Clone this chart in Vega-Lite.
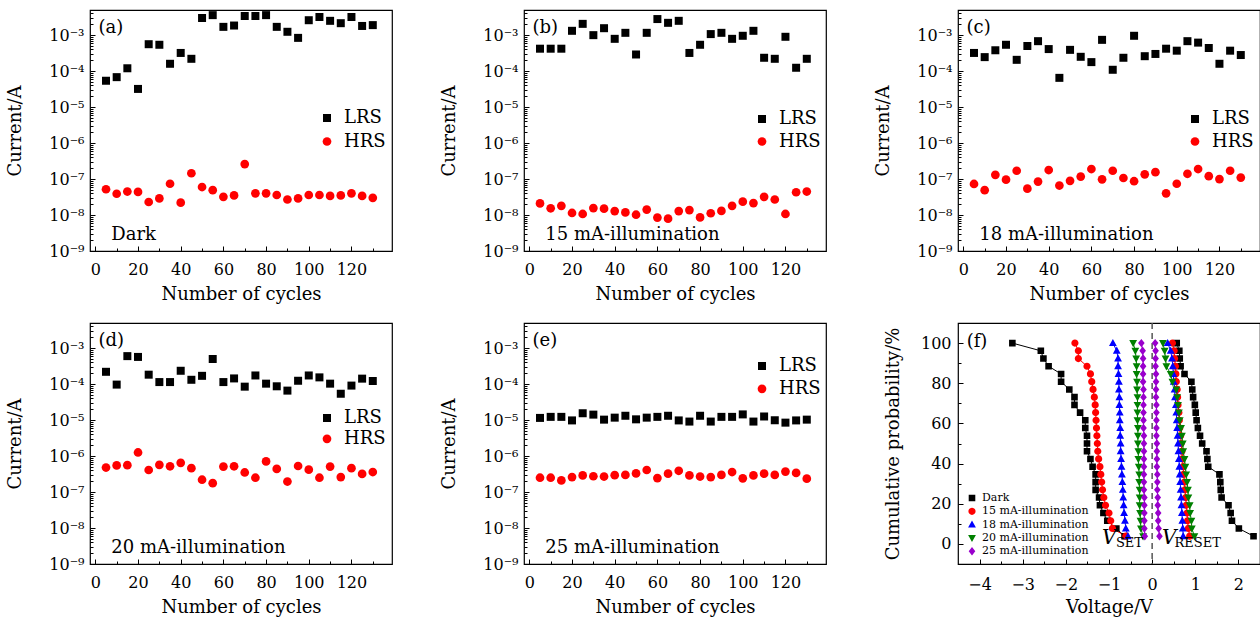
{
  "$schema": "https://vega.github.io/schema/vega-lite/v6.json",
  "padding": {"left": 5, "top": 9, "right": 0, "bottom": 0},
  "config": {
    "font": "DejaVu Serif",
    "view": {"stroke": "#000", "strokeWidth": 1.2},
    "axis": {"grid": false, "domain": false, "tickColor": "#000", "labelColor": "#000", "titleColor": "#000", "labelFont": "DejaVu Serif", "titleFont": "DejaVu Serif", "labelFontSize": 16, "titleFontSize": 18, "titleFontWeight": "normal", "tickWidth": 1},
    "legend": {"labelColor": "#000", "labelFont": "DejaVu Serif", "padding": 0, "offset": 0},
    "text": {"font": "DejaVu Serif"}
  },
  "columns": 3,
  "spacing": {"row": 17, "column": 46},
  "resolve": {
    "scale": {"color": "independent", "shape": "independent", "size": "independent", "stroke": "independent", "x": "independent", "y": "independent"},
    "legend": {"color": "independent", "shape": "independent", "size": "independent", "stroke": "independent"}
  },
  "datasets": {
    "pts": [
      {"p":"a","s":"LRS","c":5,"i":5.4e-5},{"p":"a","s":"LRS","c":10,"i":6.8e-5},{"p":"a","s":"LRS","c":15,"i":1.2e-4},{"p":"a","s":"LRS","c":20,"i":3.2e-5},{"p":"a","s":"LRS","c":25,"i":5.6e-4},{"p":"a","s":"LRS","c":30,"i":5.4e-4},{"p":"a","s":"LRS","c":35,"i":1.6e-4},{"p":"a","s":"LRS","c":40,"i":3.2e-4},{"p":"a","s":"LRS","c":45,"i":2.2e-4},{"p":"a","s":"LRS","c":50,"i":3.0e-3},{"p":"a","s":"LRS","c":55,"i":3.6e-3},{"p":"a","s":"LRS","c":60,"i":1.7e-3},{"p":"a","s":"LRS","c":65,"i":1.85e-3},{"p":"a","s":"LRS","c":70,"i":3.4e-3},{"p":"a","s":"LRS","c":75,"i":3.4e-3},{"p":"a","s":"LRS","c":80,"i":3.6e-3},{"p":"a","s":"LRS","c":85,"i":1.7e-3},{"p":"a","s":"LRS","c":90,"i":1.24e-3},{"p":"a","s":"LRS","c":95,"i":8.4e-4},{"p":"a","s":"LRS","c":100,"i":2.6e-3},{"p":"a","s":"LRS","c":105,"i":3.2e-3},{"p":"a","s":"LRS","c":110,"i":2.5e-3},{"p":"a","s":"LRS","c":115,"i":2.15e-3},{"p":"a","s":"LRS","c":120,"i":3.2e-3},{"p":"a","s":"LRS","c":125,"i":1.8e-3},{"p":"a","s":"LRS","c":130,"i":1.9e-3},
      {"p":"a","s":"HRS","c":5,"i":5.2e-8},{"p":"a","s":"HRS","c":10,"i":3.9e-8},{"p":"a","s":"HRS","c":15,"i":4.5e-8},{"p":"a","s":"HRS","c":20,"i":4.4e-8},{"p":"a","s":"HRS","c":25,"i":2.3e-8},{"p":"a","s":"HRS","c":30,"i":2.9e-8},{"p":"a","s":"HRS","c":35,"i":7.4e-8},{"p":"a","s":"HRS","c":40,"i":2.2e-8},{"p":"a","s":"HRS","c":45,"i":1.45e-7},{"p":"a","s":"HRS","c":50,"i":6.0e-8},{"p":"a","s":"HRS","c":55,"i":4.9e-8},{"p":"a","s":"HRS","c":60,"i":3.2e-8},{"p":"a","s":"HRS","c":65,"i":3.5e-8},{"p":"a","s":"HRS","c":70,"i":2.6e-7},{"p":"a","s":"HRS","c":75,"i":4.0e-8},{"p":"a","s":"HRS","c":80,"i":4.0e-8},{"p":"a","s":"HRS","c":85,"i":3.6e-8},{"p":"a","s":"HRS","c":90,"i":2.7e-8},{"p":"a","s":"HRS","c":95,"i":2.9e-8},{"p":"a","s":"HRS","c":100,"i":3.6e-8},{"p":"a","s":"HRS","c":105,"i":3.6e-8},{"p":"a","s":"HRS","c":110,"i":3.4e-8},{"p":"a","s":"HRS","c":115,"i":3.5e-8},{"p":"a","s":"HRS","c":120,"i":4.0e-8},{"p":"a","s":"HRS","c":125,"i":3.4e-8},{"p":"a","s":"HRS","c":130,"i":3.0e-8},
      {"p":"b","s":"LRS","c":5,"i":4.2e-4},{"p":"b","s":"LRS","c":10,"i":4.2e-4},{"p":"b","s":"LRS","c":15,"i":4.2e-4},{"p":"b","s":"LRS","c":20,"i":1.32e-3},{"p":"b","s":"LRS","c":25,"i":2.06e-3},{"p":"b","s":"LRS","c":30,"i":1.0e-3},{"p":"b","s":"LRS","c":35,"i":1.56e-3},{"p":"b","s":"LRS","c":40,"i":7.9e-4},{"p":"b","s":"LRS","c":45,"i":1.16e-3},{"p":"b","s":"LRS","c":50,"i":2.9e-4},{"p":"b","s":"LRS","c":55,"i":1.16e-3},{"p":"b","s":"LRS","c":60,"i":2.8e-3},{"p":"b","s":"LRS","c":65,"i":2.2e-3},{"p":"b","s":"LRS","c":70,"i":2.5e-3},{"p":"b","s":"LRS","c":75,"i":3.2e-4},{"p":"b","s":"LRS","c":80,"i":5.4e-4},{"p":"b","s":"LRS","c":85,"i":1.07e-3},{"p":"b","s":"LRS","c":90,"i":1.16e-3},{"p":"b","s":"LRS","c":95,"i":7.9e-4},{"p":"b","s":"LRS","c":100,"i":9.6e-4},{"p":"b","s":"LRS","c":105,"i":1.32e-3},{"p":"b","s":"LRS","c":110,"i":2.35e-4},{"p":"b","s":"LRS","c":115,"i":2.2e-4},{"p":"b","s":"LRS","c":120,"i":9.0e-4},{"p":"b","s":"LRS","c":125,"i":1.24e-4},{"p":"b","s":"LRS","c":130,"i":2.2e-4},
      {"p":"b","s":"HRS","c":5,"i":2.1e-8},{"p":"b","s":"HRS","c":10,"i":1.54e-8},{"p":"b","s":"HRS","c":15,"i":1.8e-8},{"p":"b","s":"HRS","c":20,"i":1.14e-8},{"p":"b","s":"HRS","c":25,"i":1.07e-8},{"p":"b","s":"HRS","c":30,"i":1.56e-8},{"p":"b","s":"HRS","c":35,"i":1.5e-8},{"p":"b","s":"HRS","c":40,"i":1.29e-8},{"p":"b","s":"HRS","c":45,"i":1.18e-8},{"p":"b","s":"HRS","c":50,"i":1.02e-8},{"p":"b","s":"HRS","c":55,"i":1.42e-8},{"p":"b","s":"HRS","c":60,"i":8.5e-9},{"p":"b","s":"HRS","c":65,"i":7.9e-9},{"p":"b","s":"HRS","c":70,"i":1.29e-8},{"p":"b","s":"HRS","c":75,"i":1.37e-8},{"p":"b","s":"HRS","c":80,"i":8.6e-9},{"p":"b","s":"HRS","c":85,"i":1.12e-8},{"p":"b","s":"HRS","c":90,"i":1.3e-8},{"p":"b","s":"HRS","c":95,"i":1.8e-8},{"p":"b","s":"HRS","c":100,"i":2.35e-8},{"p":"b","s":"HRS","c":105,"i":2.15e-8},{"p":"b","s":"HRS","c":110,"i":3.2e-8},{"p":"b","s":"HRS","c":115,"i":2.7e-8},{"p":"b","s":"HRS","c":120,"i":1.07e-8},{"p":"b","s":"HRS","c":125,"i":4.3e-8},{"p":"b","s":"HRS","c":130,"i":4.5e-8},
      {"p":"c","s":"LRS","c":5,"i":3.2e-4},{"p":"c","s":"LRS","c":10,"i":2.45e-4},{"p":"c","s":"LRS","c":15,"i":3.8e-4},{"p":"c","s":"LRS","c":20,"i":5.4e-4},{"p":"c","s":"LRS","c":25,"i":2.06e-4},{"p":"c","s":"LRS","c":30,"i":5.0e-4},{"p":"c","s":"LRS","c":35,"i":6.8e-4},{"p":"c","s":"LRS","c":40,"i":4.1e-4},{"p":"c","s":"LRS","c":45,"i":6.5e-5},{"p":"c","s":"LRS","c":50,"i":3.9e-4},{"p":"c","s":"LRS","c":55,"i":2.5e-4},{"p":"c","s":"LRS","c":60,"i":1.78e-4},{"p":"c","s":"LRS","c":65,"i":7.4e-4},{"p":"c","s":"LRS","c":70,"i":1.09e-4},{"p":"c","s":"LRS","c":75,"i":2.35e-4},{"p":"c","s":"LRS","c":80,"i":9.6e-4},{"p":"c","s":"LRS","c":85,"i":2.6e-4},{"p":"c","s":"LRS","c":90,"i":3.0e-4},{"p":"c","s":"LRS","c":95,"i":4.2e-4},{"p":"c","s":"LRS","c":100,"i":3.7e-4},{"p":"c","s":"LRS","c":105,"i":6.8e-4},{"p":"c","s":"LRS","c":110,"i":6.2e-4},{"p":"c","s":"LRS","c":115,"i":4.4e-4},{"p":"c","s":"LRS","c":120,"i":1.6e-4},{"p":"c","s":"LRS","c":125,"i":3.7e-4},{"p":"c","s":"LRS","c":130,"i":2.8e-4},
      {"p":"c","s":"HRS","c":5,"i":7.3e-8},{"p":"c","s":"HRS","c":10,"i":4.9e-8},{"p":"c","s":"HRS","c":15,"i":1.31e-7},{"p":"c","s":"HRS","c":20,"i":9.6e-8},{"p":"c","s":"HRS","c":25,"i":1.7e-7},{"p":"c","s":"HRS","c":30,"i":5.4e-8},{"p":"c","s":"HRS","c":35,"i":8.5e-8},{"p":"c","s":"HRS","c":40,"i":1.78e-7},{"p":"c","s":"HRS","c":45,"i":6.6e-8},{"p":"c","s":"HRS","c":50,"i":8.9e-8},{"p":"c","s":"HRS","c":55,"i":1.17e-7},{"p":"c","s":"HRS","c":60,"i":1.9e-7},{"p":"c","s":"HRS","c":65,"i":9.8e-8},{"p":"c","s":"HRS","c":70,"i":1.7e-7},{"p":"c","s":"HRS","c":75,"i":1.07e-7},{"p":"c","s":"HRS","c":80,"i":8.7e-8},{"p":"c","s":"HRS","c":85,"i":1.35e-7},{"p":"c","s":"HRS","c":90,"i":1.55e-7},{"p":"c","s":"HRS","c":95,"i":4.0e-8},{"p":"c","s":"HRS","c":100,"i":7.4e-8},{"p":"c","s":"HRS","c":105,"i":1.4e-7},{"p":"c","s":"HRS","c":110,"i":1.9e-7},{"p":"c","s":"HRS","c":115,"i":1.2e-7},{"p":"c","s":"HRS","c":120,"i":1.0e-7},{"p":"c","s":"HRS","c":125,"i":1.7e-7},{"p":"c","s":"HRS","c":130,"i":1.1e-7},
      {"p":"d","s":"LRS","c":5,"i":2.2e-4},{"p":"d","s":"LRS","c":10,"i":9.7e-5},{"p":"d","s":"LRS","c":15,"i":6.0e-4},{"p":"d","s":"LRS","c":20,"i":5.7e-4},{"p":"d","s":"LRS","c":25,"i":1.83e-4},{"p":"d","s":"LRS","c":30,"i":1.14e-4},{"p":"d","s":"LRS","c":35,"i":1.14e-4},{"p":"d","s":"LRS","c":40,"i":2.35e-4},{"p":"d","s":"LRS","c":45,"i":1.32e-4},{"p":"d","s":"LRS","c":50,"i":1.7e-4},{"p":"d","s":"LRS","c":55,"i":5.0e-4},{"p":"d","s":"LRS","c":60,"i":1.14e-4},{"p":"d","s":"LRS","c":65,"i":1.44e-4},{"p":"d","s":"LRS","c":70,"i":8.5e-5},{"p":"d","s":"LRS","c":75,"i":1.74e-4},{"p":"d","s":"LRS","c":80,"i":1.03e-4},{"p":"d","s":"LRS","c":85,"i":8.7e-5},{"p":"d","s":"LRS","c":90,"i":6.6e-5},{"p":"d","s":"LRS","c":95,"i":1.24e-4},{"p":"d","s":"LRS","c":100,"i":1.74e-4},{"p":"d","s":"LRS","c":105,"i":1.54e-4},{"p":"d","s":"LRS","c":110,"i":1.03e-4},{"p":"d","s":"LRS","c":115,"i":5.4e-5},{"p":"d","s":"LRS","c":120,"i":9.1e-5},{"p":"d","s":"LRS","c":125,"i":1.42e-4},{"p":"d","s":"LRS","c":130,"i":1.22e-4},
      {"p":"d","s":"HRS","c":5,"i":4.8e-7},{"p":"d","s":"HRS","c":10,"i":5.5e-7},{"p":"d","s":"HRS","c":15,"i":5.6e-7},{"p":"d","s":"HRS","c":20,"i":1.26e-6},{"p":"d","s":"HRS","c":25,"i":4.1e-7},{"p":"d","s":"HRS","c":30,"i":5.7e-7},{"p":"d","s":"HRS","c":35,"i":5.2e-7},{"p":"d","s":"HRS","c":40,"i":6.5e-7},{"p":"d","s":"HRS","c":45,"i":4.6e-7},{"p":"d","s":"HRS","c":50,"i":2.2e-7},{"p":"d","s":"HRS","c":55,"i":1.77e-7},{"p":"d","s":"HRS","c":60,"i":5.1e-7},{"p":"d","s":"HRS","c":65,"i":5.2e-7},{"p":"d","s":"HRS","c":70,"i":3.5e-7},{"p":"d","s":"HRS","c":75,"i":2.5e-7},{"p":"d","s":"HRS","c":80,"i":7.1e-7},{"p":"d","s":"HRS","c":85,"i":4.4e-7},{"p":"d","s":"HRS","c":90,"i":1.96e-7},{"p":"d","s":"HRS","c":95,"i":5.3e-7},{"p":"d","s":"HRS","c":100,"i":4.2e-7},{"p":"d","s":"HRS","c":105,"i":2.5e-7},{"p":"d","s":"HRS","c":110,"i":5.1e-7},{"p":"d","s":"HRS","c":115,"i":2.6e-7},{"p":"d","s":"HRS","c":120,"i":4.6e-7},{"p":"d","s":"HRS","c":125,"i":3.2e-7},{"p":"d","s":"HRS","c":130,"i":3.6e-7},
      {"p":"e","s":"LRS","c":5,"i":1.15e-5},{"p":"e","s":"LRS","c":10,"i":1.23e-5},{"p":"e","s":"LRS","c":15,"i":1.23e-5},{"p":"e","s":"LRS","c":20,"i":9.8e-6},{"p":"e","s":"LRS","c":25,"i":1.55e-5},{"p":"e","s":"LRS","c":30,"i":1.42e-5},{"p":"e","s":"LRS","c":35,"i":1.03e-5},{"p":"e","s":"LRS","c":40,"i":1.17e-5},{"p":"e","s":"LRS","c":45,"i":1.32e-5},{"p":"e","s":"LRS","c":50,"i":1.05e-5},{"p":"e","s":"LRS","c":55,"i":1.17e-5},{"p":"e","s":"LRS","c":60,"i":1.23e-5},{"p":"e","s":"LRS","c":65,"i":1.32e-5},{"p":"e","s":"LRS","c":70,"i":9.8e-6},{"p":"e","s":"LRS","c":75,"i":9.1e-6},{"p":"e","s":"LRS","c":80,"i":1.32e-5},{"p":"e","s":"LRS","c":85,"i":9.1e-6},{"p":"e","s":"LRS","c":90,"i":1.23e-5},{"p":"e","s":"LRS","c":95,"i":1.23e-5},{"p":"e","s":"LRS","c":100,"i":1.44e-5},{"p":"e","s":"LRS","c":105,"i":9.1e-6},{"p":"e","s":"LRS","c":110,"i":1.26e-5},{"p":"e","s":"LRS","c":115,"i":9.9e-6},{"p":"e","s":"LRS","c":120,"i":8.5e-6},{"p":"e","s":"LRS","c":125,"i":9.8e-6},{"p":"e","s":"LRS","c":130,"i":1.03e-5},
      {"p":"e","s":"HRS","c":5,"i":2.5e-7},{"p":"e","s":"HRS","c":10,"i":2.5e-7},{"p":"e","s":"HRS","c":15,"i":2.1e-7},{"p":"e","s":"HRS","c":20,"i":2.6e-7},{"p":"e","s":"HRS","c":25,"i":2.9e-7},{"p":"e","s":"HRS","c":30,"i":2.75e-7},{"p":"e","s":"HRS","c":35,"i":2.7e-7},{"p":"e","s":"HRS","c":40,"i":2.95e-7},{"p":"e","s":"HRS","c":45,"i":3.0e-7},{"p":"e","s":"HRS","c":50,"i":3.3e-7},{"p":"e","s":"HRS","c":55,"i":4.1e-7},{"p":"e","s":"HRS","c":60,"i":2.45e-7},{"p":"e","s":"HRS","c":65,"i":3.25e-7},{"p":"e","s":"HRS","c":70,"i":3.9e-7},{"p":"e","s":"HRS","c":75,"i":2.9e-7},{"p":"e","s":"HRS","c":80,"i":2.7e-7},{"p":"e","s":"HRS","c":85,"i":2.6e-7},{"p":"e","s":"HRS","c":90,"i":3.0e-7},{"p":"e","s":"HRS","c":95,"i":3.6e-7},{"p":"e","s":"HRS","c":100,"i":2.4e-7},{"p":"e","s":"HRS","c":105,"i":2.9e-7},{"p":"e","s":"HRS","c":110,"i":3.25e-7},{"p":"e","s":"HRS","c":115,"i":3.0e-7},{"p":"e","s":"HRS","c":120,"i":3.7e-7},{"p":"e","s":"HRS","c":125,"i":3.4e-7},{"p":"e","s":"HRS","c":130,"i":2.35e-7}
    ],
    "ann": [
      {"p":"a","t":"(a)","x":1.5,"y":1.15e-3},{"p":"a","t":"Dark","x":7.5,"y":2e-9},
      {"p":"b","t":"(b)","x":1.5,"y":1.15e-3},{"p":"b","t":"15 mA-illumination","x":7.5,"y":2e-9},
      {"p":"c","t":"(c)","x":1.5,"y":1.15e-3},{"p":"c","t":"18 mA-illumination","x":7.5,"y":2e-9},
      {"p":"d","t":"(d)","x":1.5,"y":1.15e-3},{"p":"d","t":"20 mA-illumination","x":7.5,"y":2e-9},
      {"p":"e","t":"(e)","x":1.5,"y":1.15e-3},{"p":"e","t":"25 mA-illumination","x":7.5,"y":2e-9}
    ],
    "cdf": [
      {"s":"Dark","b":"S","q":100,"v":-3.24},{"s":"Dark","b":"S","q":96.15,"v":-2.58},{"s":"Dark","b":"S","q":92.31,"v":-2.52},{"s":"Dark","b":"S","q":88.46,"v":-2.4},{"s":"Dark","b":"S","q":84.62,"v":-2.11},{"s":"Dark","b":"S","q":80.77,"v":-2.11},{"s":"Dark","b":"S","q":76.92,"v":-1.92},{"s":"Dark","b":"S","q":73.08,"v":-1.8},{"s":"Dark","b":"S","q":69.23,"v":-1.8},{"s":"Dark","b":"S","q":65.38,"v":-1.67},{"s":"Dark","b":"S","q":61.54,"v":-1.55},{"s":"Dark","b":"S","q":57.69,"v":-1.55},{"s":"Dark","b":"S","q":53.85,"v":-1.51},{"s":"Dark","b":"S","q":50,"v":-1.51},{"s":"Dark","b":"S","q":46.15,"v":-1.51},{"s":"Dark","b":"S","q":42.31,"v":-1.43},{"s":"Dark","b":"S","q":38.46,"v":-1.38},{"s":"Dark","b":"S","q":34.62,"v":-1.31},{"s":"Dark","b":"S","q":30.77,"v":-1.31},{"s":"Dark","b":"S","q":26.92,"v":-1.31},{"s":"Dark","b":"S","q":23.08,"v":-1.23},{"s":"Dark","b":"S","q":19.23,"v":-1.21},{"s":"Dark","b":"S","q":15.38,"v":-1.13},{"s":"Dark","b":"S","q":11.54,"v":-1.04},{"s":"Dark","b":"S","q":7.69,"v":-0.83},{"s":"Dark","b":"S","q":3.85,"v":-0.64},
      {"s":"Dark","b":"R","q":100,"v":0.57},{"s":"Dark","b":"R","q":96.15,"v":0.63},{"s":"Dark","b":"R","q":92.31,"v":0.64},{"s":"Dark","b":"R","q":88.46,"v":0.66},{"s":"Dark","b":"R","q":84.62,"v":0.75},{"s":"Dark","b":"R","q":80.77,"v":0.91},{"s":"Dark","b":"R","q":76.92,"v":0.93},{"s":"Dark","b":"R","q":73.08,"v":0.95},{"s":"Dark","b":"R","q":69.23,"v":0.99},{"s":"Dark","b":"R","q":65.38,"v":1.01},{"s":"Dark","b":"R","q":61.54,"v":1.03},{"s":"Dark","b":"R","q":57.69,"v":1.06},{"s":"Dark","b":"R","q":53.85,"v":1.11},{"s":"Dark","b":"R","q":50,"v":1.16},{"s":"Dark","b":"R","q":46.15,"v":1.26},{"s":"Dark","b":"R","q":42.31,"v":1.28},{"s":"Dark","b":"R","q":38.46,"v":1.3},{"s":"Dark","b":"R","q":34.62,"v":1.56},{"s":"Dark","b":"R","q":30.77,"v":1.58},{"s":"Dark","b":"R","q":26.92,"v":1.59},{"s":"Dark","b":"R","q":23.08,"v":1.61},{"s":"Dark","b":"R","q":19.23,"v":1.77},{"s":"Dark","b":"R","q":15.38,"v":1.82},{"s":"Dark","b":"R","q":11.54,"v":1.85},{"s":"Dark","b":"R","q":7.69,"v":2.01},{"s":"Dark","b":"R","q":3.85,"v":2.35},
      {"s":"15 mA-illumination","b":"S","q":100,"v":-1.79},{"s":"15 mA-illumination","b":"S","q":96.15,"v":-1.71},{"s":"15 mA-illumination","b":"S","q":92.31,"v":-1.71},{"s":"15 mA-illumination","b":"S","q":88.46,"v":-1.51},{"s":"15 mA-illumination","b":"S","q":84.62,"v":-1.43},{"s":"15 mA-illumination","b":"S","q":80.77,"v":-1.4},{"s":"15 mA-illumination","b":"S","q":76.92,"v":-1.37},{"s":"15 mA-illumination","b":"S","q":73.08,"v":-1.34},{"s":"15 mA-illumination","b":"S","q":69.23,"v":-1.32},{"s":"15 mA-illumination","b":"S","q":65.38,"v":-1.31},{"s":"15 mA-illumination","b":"S","q":61.54,"v":-1.3},{"s":"15 mA-illumination","b":"S","q":57.69,"v":-1.29},{"s":"15 mA-illumination","b":"S","q":53.85,"v":-1.28},{"s":"15 mA-illumination","b":"S","q":50,"v":-1.27},{"s":"15 mA-illumination","b":"S","q":46.15,"v":-1.26},{"s":"15 mA-illumination","b":"S","q":42.31,"v":-1.24},{"s":"15 mA-illumination","b":"S","q":38.46,"v":-1.21},{"s":"15 mA-illumination","b":"S","q":34.62,"v":-1.19},{"s":"15 mA-illumination","b":"S","q":30.77,"v":-1.17},{"s":"15 mA-illumination","b":"S","q":26.92,"v":-1.15},{"s":"15 mA-illumination","b":"S","q":23.08,"v":-1.12},{"s":"15 mA-illumination","b":"S","q":19.23,"v":-1.08},{"s":"15 mA-illumination","b":"S","q":15.38,"v":-1.0},{"s":"15 mA-illumination","b":"S","q":11.54,"v":-0.96},{"s":"15 mA-illumination","b":"S","q":7.69,"v":-0.92},{"s":"15 mA-illumination","b":"S","q":3.85,"v":-0.61},
      {"s":"15 mA-illumination","b":"R","q":100,"v":0.47},{"s":"15 mA-illumination","b":"R","q":96.15,"v":0.51},{"s":"15 mA-illumination","b":"R","q":92.31,"v":0.52},{"s":"15 mA-illumination","b":"R","q":88.46,"v":0.54},{"s":"15 mA-illumination","b":"R","q":84.62,"v":0.55},{"s":"15 mA-illumination","b":"R","q":80.77,"v":0.56},{"s":"15 mA-illumination","b":"R","q":76.92,"v":0.58},{"s":"15 mA-illumination","b":"R","q":73.08,"v":0.59},{"s":"15 mA-illumination","b":"R","q":69.23,"v":0.6},{"s":"15 mA-illumination","b":"R","q":65.38,"v":0.62},{"s":"15 mA-illumination","b":"R","q":61.54,"v":0.63},{"s":"15 mA-illumination","b":"R","q":57.69,"v":0.64},{"s":"15 mA-illumination","b":"R","q":53.85,"v":0.66},{"s":"15 mA-illumination","b":"R","q":50,"v":0.67},{"s":"15 mA-illumination","b":"R","q":46.15,"v":0.69},{"s":"15 mA-illumination","b":"R","q":42.31,"v":0.7},{"s":"15 mA-illumination","b":"R","q":38.46,"v":0.72},{"s":"15 mA-illumination","b":"R","q":34.62,"v":0.73},{"s":"15 mA-illumination","b":"R","q":30.77,"v":0.75},{"s":"15 mA-illumination","b":"R","q":26.92,"v":0.76},{"s":"15 mA-illumination","b":"R","q":23.08,"v":0.78},{"s":"15 mA-illumination","b":"R","q":19.23,"v":0.79},{"s":"15 mA-illumination","b":"R","q":15.38,"v":0.81},{"s":"15 mA-illumination","b":"R","q":11.54,"v":0.82},{"s":"15 mA-illumination","b":"R","q":7.69,"v":0.84},{"s":"15 mA-illumination","b":"R","q":3.85,"v":0.87},
      {"s":"18 mA-illumination","b":"S","q":100,"v":-0.91},{"s":"18 mA-illumination","b":"S","q":96.15,"v":-0.82},{"s":"18 mA-illumination","b":"S","q":92.31,"v":-0.79},{"s":"18 mA-illumination","b":"S","q":88.46,"v":-0.79},{"s":"18 mA-illumination","b":"S","q":84.62,"v":-0.78},{"s":"18 mA-illumination","b":"S","q":80.77,"v":-0.77},{"s":"18 mA-illumination","b":"S","q":76.92,"v":-0.77},{"s":"18 mA-illumination","b":"S","q":73.08,"v":-0.76},{"s":"18 mA-illumination","b":"S","q":69.23,"v":-0.76},{"s":"18 mA-illumination","b":"S","q":65.38,"v":-0.75},{"s":"18 mA-illumination","b":"S","q":61.54,"v":-0.75},{"s":"18 mA-illumination","b":"S","q":57.69,"v":-0.74},{"s":"18 mA-illumination","b":"S","q":53.85,"v":-0.74},{"s":"18 mA-illumination","b":"S","q":50,"v":-0.73},{"s":"18 mA-illumination","b":"S","q":46.15,"v":-0.73},{"s":"18 mA-illumination","b":"S","q":42.31,"v":-0.72},{"s":"18 mA-illumination","b":"S","q":38.46,"v":-0.71},{"s":"18 mA-illumination","b":"S","q":34.62,"v":-0.7},{"s":"18 mA-illumination","b":"S","q":30.77,"v":-0.69},{"s":"18 mA-illumination","b":"S","q":26.92,"v":-0.68},{"s":"18 mA-illumination","b":"S","q":23.08,"v":-0.67},{"s":"18 mA-illumination","b":"S","q":19.23,"v":-0.66},{"s":"18 mA-illumination","b":"S","q":15.38,"v":-0.65},{"s":"18 mA-illumination","b":"S","q":11.54,"v":-0.63},{"s":"18 mA-illumination","b":"S","q":7.69,"v":-0.61},{"s":"18 mA-illumination","b":"S","q":3.85,"v":-0.56},
      {"s":"18 mA-illumination","b":"R","q":100,"v":0.36},{"s":"18 mA-illumination","b":"R","q":96.15,"v":0.43},{"s":"18 mA-illumination","b":"R","q":92.31,"v":0.46},{"s":"18 mA-illumination","b":"R","q":88.46,"v":0.48},{"s":"18 mA-illumination","b":"R","q":84.62,"v":0.49},{"s":"18 mA-illumination","b":"R","q":80.77,"v":0.5},{"s":"18 mA-illumination","b":"R","q":76.92,"v":0.52},{"s":"18 mA-illumination","b":"R","q":73.08,"v":0.53},{"s":"18 mA-illumination","b":"R","q":69.23,"v":0.55},{"s":"18 mA-illumination","b":"R","q":65.38,"v":0.56},{"s":"18 mA-illumination","b":"R","q":61.54,"v":0.57},{"s":"18 mA-illumination","b":"R","q":57.69,"v":0.58},{"s":"18 mA-illumination","b":"R","q":53.85,"v":0.59},{"s":"18 mA-illumination","b":"R","q":50,"v":0.6},{"s":"18 mA-illumination","b":"R","q":46.15,"v":0.61},{"s":"18 mA-illumination","b":"R","q":42.31,"v":0.62},{"s":"18 mA-illumination","b":"R","q":38.46,"v":0.63},{"s":"18 mA-illumination","b":"R","q":34.62,"v":0.64},{"s":"18 mA-illumination","b":"R","q":30.77,"v":0.65},{"s":"18 mA-illumination","b":"R","q":26.92,"v":0.66},{"s":"18 mA-illumination","b":"R","q":23.08,"v":0.67},{"s":"18 mA-illumination","b":"R","q":19.23,"v":0.68},{"s":"18 mA-illumination","b":"R","q":15.38,"v":0.69},{"s":"18 mA-illumination","b":"R","q":11.54,"v":0.7},{"s":"18 mA-illumination","b":"R","q":7.69,"v":0.71},{"s":"18 mA-illumination","b":"R","q":3.85,"v":0.72},
      {"s":"20 mA-illumination","b":"S","q":100,"v":-0.44},{"s":"20 mA-illumination","b":"S","q":96.15,"v":-0.39},{"s":"20 mA-illumination","b":"S","q":92.31,"v":-0.37},{"s":"20 mA-illumination","b":"S","q":88.46,"v":-0.36},{"s":"20 mA-illumination","b":"S","q":84.62,"v":-0.36},{"s":"20 mA-illumination","b":"S","q":80.77,"v":-0.35},{"s":"20 mA-illumination","b":"S","q":76.92,"v":-0.35},{"s":"20 mA-illumination","b":"S","q":73.08,"v":-0.34},{"s":"20 mA-illumination","b":"S","q":69.23,"v":-0.34},{"s":"20 mA-illumination","b":"S","q":65.38,"v":-0.34},{"s":"20 mA-illumination","b":"S","q":61.54,"v":-0.34},{"s":"20 mA-illumination","b":"S","q":57.69,"v":-0.33},{"s":"20 mA-illumination","b":"S","q":53.85,"v":-0.33},{"s":"20 mA-illumination","b":"S","q":50,"v":-0.33},{"s":"20 mA-illumination","b":"S","q":46.15,"v":-0.32},{"s":"20 mA-illumination","b":"S","q":42.31,"v":-0.32},{"s":"20 mA-illumination","b":"S","q":38.46,"v":-0.31},{"s":"20 mA-illumination","b":"S","q":34.62,"v":-0.3},{"s":"20 mA-illumination","b":"S","q":30.77,"v":-0.3},{"s":"20 mA-illumination","b":"S","q":26.92,"v":-0.29},{"s":"20 mA-illumination","b":"S","q":23.08,"v":-0.29},{"s":"20 mA-illumination","b":"S","q":19.23,"v":-0.29},{"s":"20 mA-illumination","b":"S","q":15.38,"v":-0.28},{"s":"20 mA-illumination","b":"S","q":11.54,"v":-0.27},{"s":"20 mA-illumination","b":"S","q":7.69,"v":-0.26},{"s":"20 mA-illumination","b":"S","q":3.85,"v":-0.21},
      {"s":"20 mA-illumination","b":"R","q":100,"v":0.25},{"s":"20 mA-illumination","b":"R","q":96.15,"v":0.29},{"s":"20 mA-illumination","b":"R","q":92.31,"v":0.31},{"s":"20 mA-illumination","b":"R","q":88.46,"v":0.33},{"s":"20 mA-illumination","b":"R","q":84.62,"v":0.43},{"s":"20 mA-illumination","b":"R","q":80.77,"v":0.47},{"s":"20 mA-illumination","b":"R","q":76.92,"v":0.56},{"s":"20 mA-illumination","b":"R","q":73.08,"v":0.58},{"s":"20 mA-illumination","b":"R","q":69.23,"v":0.6},{"s":"20 mA-illumination","b":"R","q":65.38,"v":0.62},{"s":"20 mA-illumination","b":"R","q":61.54,"v":0.64},{"s":"20 mA-illumination","b":"R","q":57.69,"v":0.67},{"s":"20 mA-illumination","b":"R","q":53.85,"v":0.69},{"s":"20 mA-illumination","b":"R","q":50,"v":0.71},{"s":"20 mA-illumination","b":"R","q":46.15,"v":0.72},{"s":"20 mA-illumination","b":"R","q":42.31,"v":0.75},{"s":"20 mA-illumination","b":"R","q":38.46,"v":0.77},{"s":"20 mA-illumination","b":"R","q":34.62,"v":0.79},{"s":"20 mA-illumination","b":"R","q":30.77,"v":0.81},{"s":"20 mA-illumination","b":"R","q":26.92,"v":0.83},{"s":"20 mA-illumination","b":"R","q":23.08,"v":0.84},{"s":"20 mA-illumination","b":"R","q":19.23,"v":0.87},{"s":"20 mA-illumination","b":"R","q":15.38,"v":0.88},{"s":"20 mA-illumination","b":"R","q":11.54,"v":0.91},{"s":"20 mA-illumination","b":"R","q":7.69,"v":0.92},{"s":"20 mA-illumination","b":"R","q":3.85,"v":0.98},
      {"s":"25 mA-illumination","b":"S","q":100,"v":-0.25},{"s":"25 mA-illumination","b":"S","q":96.15,"v":-0.22},{"s":"25 mA-illumination","b":"S","q":92.31,"v":-0.21},{"s":"25 mA-illumination","b":"S","q":88.46,"v":-0.21},{"s":"25 mA-illumination","b":"S","q":84.62,"v":-0.21},{"s":"25 mA-illumination","b":"S","q":80.77,"v":-0.21},{"s":"25 mA-illumination","b":"S","q":76.92,"v":-0.2},{"s":"25 mA-illumination","b":"S","q":73.08,"v":-0.2},{"s":"25 mA-illumination","b":"S","q":69.23,"v":-0.2},{"s":"25 mA-illumination","b":"S","q":65.38,"v":-0.2},{"s":"25 mA-illumination","b":"S","q":61.54,"v":-0.2},{"s":"25 mA-illumination","b":"S","q":57.69,"v":-0.2},{"s":"25 mA-illumination","b":"S","q":53.85,"v":-0.19},{"s":"25 mA-illumination","b":"S","q":50,"v":-0.19},{"s":"25 mA-illumination","b":"S","q":46.15,"v":-0.19},{"s":"25 mA-illumination","b":"S","q":42.31,"v":-0.19},{"s":"25 mA-illumination","b":"S","q":38.46,"v":-0.19},{"s":"25 mA-illumination","b":"S","q":34.62,"v":-0.19},{"s":"25 mA-illumination","b":"S","q":30.77,"v":-0.19},{"s":"25 mA-illumination","b":"S","q":26.92,"v":-0.19},{"s":"25 mA-illumination","b":"S","q":23.08,"v":-0.18},{"s":"25 mA-illumination","b":"S","q":19.23,"v":-0.18},{"s":"25 mA-illumination","b":"S","q":15.38,"v":-0.18},{"s":"25 mA-illumination","b":"S","q":11.54,"v":-0.18},{"s":"25 mA-illumination","b":"S","q":7.69,"v":-0.18},{"s":"25 mA-illumination","b":"S","q":3.85,"v":-0.17},
      {"s":"25 mA-illumination","b":"R","q":100,"v":0.07},{"s":"25 mA-illumination","b":"R","q":96.15,"v":0.08},{"s":"25 mA-illumination","b":"R","q":92.31,"v":0.08},{"s":"25 mA-illumination","b":"R","q":88.46,"v":0.08},{"s":"25 mA-illumination","b":"R","q":84.62,"v":0.09},{"s":"25 mA-illumination","b":"R","q":80.77,"v":0.09},{"s":"25 mA-illumination","b":"R","q":76.92,"v":0.09},{"s":"25 mA-illumination","b":"R","q":73.08,"v":0.09},{"s":"25 mA-illumination","b":"R","q":69.23,"v":0.1},{"s":"25 mA-illumination","b":"R","q":65.38,"v":0.1},{"s":"25 mA-illumination","b":"R","q":61.54,"v":0.1},{"s":"25 mA-illumination","b":"R","q":57.69,"v":0.1},{"s":"25 mA-illumination","b":"R","q":53.85,"v":0.1},{"s":"25 mA-illumination","b":"R","q":50,"v":0.11},{"s":"25 mA-illumination","b":"R","q":46.15,"v":0.11},{"s":"25 mA-illumination","b":"R","q":42.31,"v":0.11},{"s":"25 mA-illumination","b":"R","q":38.46,"v":0.11},{"s":"25 mA-illumination","b":"R","q":34.62,"v":0.12},{"s":"25 mA-illumination","b":"R","q":30.77,"v":0.12},{"s":"25 mA-illumination","b":"R","q":26.92,"v":0.12},{"s":"25 mA-illumination","b":"R","q":23.08,"v":0.13},{"s":"25 mA-illumination","b":"R","q":19.23,"v":0.13},{"s":"25 mA-illumination","b":"R","q":15.38,"v":0.14},{"s":"25 mA-illumination","b":"R","q":11.54,"v":0.14},{"s":"25 mA-illumination","b":"R","q":7.69,"v":0.15},{"s":"25 mA-illumination","b":"R","q":3.85,"v":0.17}
    ]
  },
  "concat": [
    {
      "width": 302, "height": 241,
      "layer": [
        {
          "data": {"name": "pts"}, "transform": [{"filter": "datum.p === 'a'"}],
          "mark": {"type": "point", "filled": true, "opacity": 1},
          "encoding": {
            "x": {"field": "c", "type": "quantitative", "scale": {"domain": [-2.5, 139], "nice": false, "zero": false}, "axis": {"title": "Number of cycles", "values": [0,20,40,60,80,100,120], "format": "d", "tickSize": -5, "labelPadding": 15, "titleY": 48, "titleBaseline": "alphabetic"}},
            "y": {"field": "i", "type": "quantitative", "scale": {"type": "log", "domain": [1e-9, 5e-3], "nice": false}, "axis": {"title": "Current/A", "values": [1e-9,1e-8,1e-7,1e-6,1e-5,1e-4,1e-3], "labelExpr": "'10⁻' + ['⁰','¹','²','³','⁴','⁵','⁶','⁷','⁸','⁹'][round(-log(datum.value)/LN10)]", "tickSize": -5, "labelPadding": 11, "titleX": -66}},
            "color": {"field": "s", "type": "nominal", "scale": {"domain": ["LRS","HRS"], "range": ["#000000","#FF0000"]}, "legend": {"orient": "none", "legendX": 228, "legendY": 99, "title": null, "labelFontSize": 18, "symbolSize": 70, "rowPadding": 5.5, "labelOffset": 8}},
            "shape": {"field": "s", "type": "nominal", "scale": {"domain": ["LRS","HRS"], "range": ["square","circle"]}},
            "size": {"field": "s", "type": "nominal", "scale": {"domain": ["LRS","HRS"], "range": [64, 76]}, "legend": null}
          }
        },
        {
          "data": {"name": "ann"}, "transform": [{"filter": "datum.p === 'a'"}],
          "mark": {"type": "text", "align": "left", "baseline": "alphabetic", "fontSize": 18, "font": "DejaVu Serif", "color": "#000"},
          "encoding": {
            "x": {"field": "x", "type": "quantitative", "scale": {"domain": [-2.5, 139], "nice": false, "zero": false}, "axis": {"orient": "bottom", "values": [10,30,50,70,90,110,130], "labels": false, "tickSize": -3, "title": null}},
            "y": {"field": "y", "type": "quantitative", "scale": {"type": "log", "domain": [1e-9, 5e-3], "nice": false}, "axis": {"orient": "left", "values": [2e-9,3e-9,4e-9,5e-9,6e-9,7e-9,8e-9,9e-9,2e-8,3e-8,4e-8,5e-8,6e-8,7e-8,8e-8,9e-8,2e-7,3e-7,4e-7,5e-7,6e-7,7e-7,8e-7,9e-7,2e-6,3e-6,4e-6,5e-6,6e-6,7e-6,8e-6,9e-6,2e-5,3e-5,4e-5,5e-5,6e-5,7e-5,8e-5,9e-5,2e-4,3e-4,4e-4,5e-4,6e-4,7e-4,8e-4,9e-4,2e-3,3e-3,4e-3], "labels": false, "tickSize": -3, "title": null}},
            "text": {"field": "t"}
          }
        }
      ],
      "resolve": {"axis": {"x": "independent", "y": "independent"}}
    },
    {
      "width": 302, "height": 241,
      "layer": [
        {
          "data": {"name": "pts"}, "transform": [{"filter": "datum.p === 'b'"}],
          "mark": {"type": "point", "filled": true, "opacity": 1},
          "encoding": {
            "x": {"field": "c", "type": "quantitative", "scale": {"domain": [-2.5, 139], "nice": false, "zero": false}, "axis": {"title": "Number of cycles", "values": [0,20,40,60,80,100,120], "format": "d", "tickSize": -5, "labelPadding": 15, "titleY": 48, "titleBaseline": "alphabetic"}},
            "y": {"field": "i", "type": "quantitative", "scale": {"type": "log", "domain": [1e-9, 5e-3], "nice": false}, "axis": {"title": "Current/A", "values": [1e-9,1e-8,1e-7,1e-6,1e-5,1e-4,1e-3], "labelExpr": "'10⁻' + ['⁰','¹','²','³','⁴','⁵','⁶','⁷','⁸','⁹'][round(-log(datum.value)/LN10)]", "tickSize": -5, "labelPadding": 11, "titleX": -66}},
            "color": {"field": "s", "type": "nominal", "scale": {"domain": ["LRS","HRS"], "range": ["#000000","#FF0000"]}, "legend": {"orient": "none", "legendX": 229, "legendY": 100, "title": null, "labelFontSize": 18, "symbolSize": 70, "rowPadding": 4.5, "labelOffset": 8}},
            "shape": {"field": "s", "type": "nominal", "scale": {"domain": ["LRS","HRS"], "range": ["square","circle"]}},
            "size": {"field": "s", "type": "nominal", "scale": {"domain": ["LRS","HRS"], "range": [64, 76]}, "legend": null}
          }
        },
        {
          "data": {"name": "ann"}, "transform": [{"filter": "datum.p === 'b'"}],
          "mark": {"type": "text", "align": "left", "baseline": "alphabetic", "fontSize": 18, "font": "DejaVu Serif", "color": "#000"},
          "encoding": {
            "x": {"field": "x", "type": "quantitative", "scale": {"domain": [-2.5, 139], "nice": false, "zero": false}, "axis": {"orient": "bottom", "values": [10,30,50,70,90,110,130], "labels": false, "tickSize": -3, "title": null}},
            "y": {"field": "y", "type": "quantitative", "scale": {"type": "log", "domain": [1e-9, 5e-3], "nice": false}, "axis": {"orient": "left", "values": [2e-9,3e-9,4e-9,5e-9,6e-9,7e-9,8e-9,9e-9,2e-8,3e-8,4e-8,5e-8,6e-8,7e-8,8e-8,9e-8,2e-7,3e-7,4e-7,5e-7,6e-7,7e-7,8e-7,9e-7,2e-6,3e-6,4e-6,5e-6,6e-6,7e-6,8e-6,9e-6,2e-5,3e-5,4e-5,5e-5,6e-5,7e-5,8e-5,9e-5,2e-4,3e-4,4e-4,5e-4,6e-4,7e-4,8e-4,9e-4,2e-3,3e-3,4e-3], "labels": false, "tickSize": -3, "title": null}},
            "text": {"field": "t"}
          }
        }
      ],
      "resolve": {"axis": {"x": "independent", "y": "independent"}}
    },
    {
      "width": 302, "height": 241,
      "layer": [
        {
          "data": {"name": "pts"}, "transform": [{"filter": "datum.p === 'c'"}],
          "mark": {"type": "point", "filled": true, "opacity": 1},
          "encoding": {
            "x": {"field": "c", "type": "quantitative", "scale": {"domain": [-2.5, 139], "nice": false, "zero": false}, "axis": {"title": "Number of cycles", "values": [0,20,40,60,80,100,120], "format": "d", "tickSize": -5, "labelPadding": 15, "titleY": 48, "titleBaseline": "alphabetic"}},
            "y": {"field": "i", "type": "quantitative", "scale": {"type": "log", "domain": [1e-9, 5e-3], "nice": false}, "axis": {"title": "Current/A", "values": [1e-9,1e-8,1e-7,1e-6,1e-5,1e-4,1e-3], "labelExpr": "'10⁻' + ['⁰','¹','²','³','⁴','⁵','⁶','⁷','⁸','⁹'][round(-log(datum.value)/LN10)]", "tickSize": -5, "labelPadding": 11, "titleX": -66}},
            "color": {"field": "s", "type": "nominal", "scale": {"domain": ["LRS","HRS"], "range": ["#000000","#FF0000"]}, "legend": {"orient": "none", "legendX": 228, "legendY": 100, "title": null, "labelFontSize": 18, "symbolSize": 70, "rowPadding": 4.5, "labelOffset": 8}},
            "shape": {"field": "s", "type": "nominal", "scale": {"domain": ["LRS","HRS"], "range": ["square","circle"]}},
            "size": {"field": "s", "type": "nominal", "scale": {"domain": ["LRS","HRS"], "range": [64, 76]}, "legend": null}
          }
        },
        {
          "data": {"name": "ann"}, "transform": [{"filter": "datum.p === 'c'"}],
          "mark": {"type": "text", "align": "left", "baseline": "alphabetic", "fontSize": 18, "font": "DejaVu Serif", "color": "#000"},
          "encoding": {
            "x": {"field": "x", "type": "quantitative", "scale": {"domain": [-2.5, 139], "nice": false, "zero": false}, "axis": {"orient": "bottom", "values": [10,30,50,70,90,110,130], "labels": false, "tickSize": -3, "title": null}},
            "y": {"field": "y", "type": "quantitative", "scale": {"type": "log", "domain": [1e-9, 5e-3], "nice": false}, "axis": {"orient": "left", "values": [2e-9,3e-9,4e-9,5e-9,6e-9,7e-9,8e-9,9e-9,2e-8,3e-8,4e-8,5e-8,6e-8,7e-8,8e-8,9e-8,2e-7,3e-7,4e-7,5e-7,6e-7,7e-7,8e-7,9e-7,2e-6,3e-6,4e-6,5e-6,6e-6,7e-6,8e-6,9e-6,2e-5,3e-5,4e-5,5e-5,6e-5,7e-5,8e-5,9e-5,2e-4,3e-4,4e-4,5e-4,6e-4,7e-4,8e-4,9e-4,2e-3,3e-3,4e-3], "labels": false, "tickSize": -3, "title": null}},
            "text": {"field": "t"}
          }
        }
      ],
      "resolve": {"axis": {"x": "independent", "y": "independent"}}
    },
    {
      "width": 302, "height": 241,
      "layer": [
        {
          "data": {"name": "pts"}, "transform": [{"filter": "datum.p === 'd'"}],
          "mark": {"type": "point", "filled": true, "opacity": 1},
          "encoding": {
            "x": {"field": "c", "type": "quantitative", "scale": {"domain": [-2.5, 139], "nice": false, "zero": false}, "axis": {"title": "Number of cycles", "values": [0,20,40,60,80,100,120], "format": "d", "tickSize": -5, "labelPadding": 15, "titleY": 48, "titleBaseline": "alphabetic"}},
            "y": {"field": "i", "type": "quantitative", "scale": {"type": "log", "domain": [1e-9, 5e-3], "nice": false}, "axis": {"title": "Current/A", "values": [1e-9,1e-8,1e-7,1e-6,1e-5,1e-4,1e-3], "labelExpr": "'10⁻' + ['⁰','¹','²','³','⁴','⁵','⁶','⁷','⁸','⁹'][round(-log(datum.value)/LN10)]", "tickSize": -5, "labelPadding": 11, "titleX": -66}},
            "color": {"field": "s", "type": "nominal", "scale": {"domain": ["LRS","HRS"], "range": ["#000000","#FF0000"]}, "legend": {"orient": "none", "legendX": 228, "legendY": 86, "title": null, "labelFontSize": 18, "symbolSize": 70, "rowPadding": 2.8, "labelOffset": 8}},
            "shape": {"field": "s", "type": "nominal", "scale": {"domain": ["LRS","HRS"], "range": ["square","circle"]}},
            "size": {"field": "s", "type": "nominal", "scale": {"domain": ["LRS","HRS"], "range": [64, 76]}, "legend": null}
          }
        },
        {
          "data": {"name": "ann"}, "transform": [{"filter": "datum.p === 'd'"}],
          "mark": {"type": "text", "align": "left", "baseline": "alphabetic", "fontSize": 18, "font": "DejaVu Serif", "color": "#000"},
          "encoding": {
            "x": {"field": "x", "type": "quantitative", "scale": {"domain": [-2.5, 139], "nice": false, "zero": false}, "axis": {"orient": "bottom", "values": [10,30,50,70,90,110,130], "labels": false, "tickSize": -3, "title": null}},
            "y": {"field": "y", "type": "quantitative", "scale": {"type": "log", "domain": [1e-9, 5e-3], "nice": false}, "axis": {"orient": "left", "values": [2e-9,3e-9,4e-9,5e-9,6e-9,7e-9,8e-9,9e-9,2e-8,3e-8,4e-8,5e-8,6e-8,7e-8,8e-8,9e-8,2e-7,3e-7,4e-7,5e-7,6e-7,7e-7,8e-7,9e-7,2e-6,3e-6,4e-6,5e-6,6e-6,7e-6,8e-6,9e-6,2e-5,3e-5,4e-5,5e-5,6e-5,7e-5,8e-5,9e-5,2e-4,3e-4,4e-4,5e-4,6e-4,7e-4,8e-4,9e-4,2e-3,3e-3,4e-3], "labels": false, "tickSize": -3, "title": null}},
            "text": {"field": "t"}
          }
        }
      ],
      "resolve": {"axis": {"x": "independent", "y": "independent"}}
    },
    {
      "width": 302, "height": 241,
      "layer": [
        {
          "data": {"name": "pts"}, "transform": [{"filter": "datum.p === 'e'"}],
          "mark": {"type": "point", "filled": true, "opacity": 1},
          "encoding": {
            "x": {"field": "c", "type": "quantitative", "scale": {"domain": [-2.5, 139], "nice": false, "zero": false}, "axis": {"title": "Number of cycles", "values": [0,20,40,60,80,100,120], "format": "d", "tickSize": -5, "labelPadding": 15, "titleY": 48, "titleBaseline": "alphabetic"}},
            "y": {"field": "i", "type": "quantitative", "scale": {"type": "log", "domain": [1e-9, 5e-3], "nice": false}, "axis": {"title": "Current/A", "values": [1e-9,1e-8,1e-7,1e-6,1e-5,1e-4,1e-3], "labelExpr": "'10⁻' + ['⁰','¹','²','³','⁴','⁵','⁶','⁷','⁸','⁹'][round(-log(datum.value)/LN10)]", "tickSize": -5, "labelPadding": 11, "titleX": -66}},
            "color": {"field": "s", "type": "nominal", "scale": {"domain": ["LRS","HRS"], "range": ["#000000","#FF0000"]}, "legend": {"orient": "none", "legendX": 229, "legendY": 34, "title": null, "labelFontSize": 18, "symbolSize": 70, "rowPadding": 4.8, "labelOffset": 8}},
            "shape": {"field": "s", "type": "nominal", "scale": {"domain": ["LRS","HRS"], "range": ["square","circle"]}},
            "size": {"field": "s", "type": "nominal", "scale": {"domain": ["LRS","HRS"], "range": [64, 76]}, "legend": null}
          }
        },
        {
          "data": {"name": "ann"}, "transform": [{"filter": "datum.p === 'e'"}],
          "mark": {"type": "text", "align": "left", "baseline": "alphabetic", "fontSize": 18, "font": "DejaVu Serif", "color": "#000"},
          "encoding": {
            "x": {"field": "x", "type": "quantitative", "scale": {"domain": [-2.5, 139], "nice": false, "zero": false}, "axis": {"orient": "bottom", "values": [10,30,50,70,90,110,130], "labels": false, "tickSize": -3, "title": null}},
            "y": {"field": "y", "type": "quantitative", "scale": {"type": "log", "domain": [1e-9, 5e-3], "nice": false}, "axis": {"orient": "left", "values": [2e-9,3e-9,4e-9,5e-9,6e-9,7e-9,8e-9,9e-9,2e-8,3e-8,4e-8,5e-8,6e-8,7e-8,8e-8,9e-8,2e-7,3e-7,4e-7,5e-7,6e-7,7e-7,8e-7,9e-7,2e-6,3e-6,4e-6,5e-6,6e-6,7e-6,8e-6,9e-6,2e-5,3e-5,4e-5,5e-5,6e-5,7e-5,8e-5,9e-5,2e-4,3e-4,4e-4,5e-4,6e-4,7e-4,8e-4,9e-4,2e-3,3e-3,4e-3], "labels": false, "tickSize": -3, "title": null}},
            "text": {"field": "t"}
          }
        }
      ],
      "resolve": {"axis": {"x": "independent", "y": "independent"}}
    },
    {
      "width": 302, "height": 241,
      "layer": [
        {
          "data": {"values": [{"z": 0}]},
          "mark": {"type": "rule", "strokeDash": [6, 4], "color": "#555555", "strokeWidth": 1.5},
          "encoding": {"x": {"field": "z", "type": "quantitative", "scale": {"domain": [-4.5, 2.5], "nice": false, "zero": false}, "axis": null}}
        },
        {
          "data": {"name": "cdf"},
          "mark": {"type": "line", "strokeWidth": 1},
          "encoding": {
            "x": {"field": "v", "type": "quantitative", "scale": {"domain": [-4.5, 2.5], "nice": false, "zero": false}, "axis": null},
            "y": {"field": "q", "type": "quantitative", "scale": {"domain": [-10, 110], "nice": false, "zero": false}, "axis": null},
            "stroke": {"field": "s", "type": "nominal", "scale": {"domain": ["25 mA-illumination","20 mA-illumination","18 mA-illumination","15 mA-illumination","Dark"], "range": ["#9900CC","#008000","#0000FF","#FF0000","#000000"]}, "legend": null},
            "detail": {"field": "b"},
            "order": {"field": "q", "type": "quantitative"}
          }
        },
        {
          "data": {"name": "cdf"},
          "mark": {"type": "point", "filled": true, "opacity": 1, "size": 144},
          "encoding": {
            "x": {"field": "v", "type": "quantitative", "scale": {"domain": [-4.5, 2.5], "nice": false, "zero": false}, "axis": {"title": "Voltage/V", "values": [-4,-3,-2,-1,0,1,2], "format": "d", "tickSize": -5, "labelPadding": 17, "titleY": 48, "titleBaseline": "alphabetic"}},
            "y": {"field": "q", "type": "quantitative", "scale": {"domain": [-10, 110], "nice": false, "zero": false}, "axis": {"title": "Cumulative probability/%", "values": [0,20,40,60,80,100], "tickSize": -5, "labelPadding": 12, "titleX": -56}},
            "color": {"field": "s", "type": "nominal", "scale": {"domain": ["Dark","15 mA-illumination","18 mA-illumination","20 mA-illumination","25 mA-illumination"], "range": ["#000000","#FF0000","#0000FF","#008000","#9900CC"]}, "legend": {"orient": "none", "legendX": 7, "legendY": 168, "title": null, "labelFontSize": 11, "symbolSize": 144, "rowPadding": 1.3, "labelOffset": 3, "encode": {"symbols": {"stroke": {"value": {"expr": "datum.value === 'Dark' ? '#000000' : datum.value === '15 mA-illumination' ? '#FF0000' : datum.value === '18 mA-illumination' ? '#0000FF' : datum.value === '20 mA-illumination' ? '#008000' : '#9900CC'"}}, "strokeWidth": {"value": 1}}}}},
            "shape": {"field": "s", "type": "nominal", "scale": {"domain": ["Dark","15 mA-illumination","18 mA-illumination","20 mA-illumination","25 mA-illumination"], "range": ["M-1.5,0H1.5M-0.55,-0.55H0.55V0.55H-0.55Z", "M-1.5,0H1.5M-0.6,0A0.6,0.6,0,1,0,0.6,0A0.6,0.6,0,1,0,-0.6,0Z", "M-1.5,0H1.5M0,-0.7L0.65,0.5H-0.65Z", "M-1.5,0H1.5M0,0.7L0.65,-0.5H-0.65Z", "M-1.5,0H1.5M0,-0.7L0.55,0L0,0.7L-0.55,0Z"]}}
          }
        },
        {
          "data": {"values": [{"t": "(f)", "v": -4.3, "q": 97.9}]},
          "mark": {"type": "text", "align": "left", "baseline": "alphabetic", "fontSize": 18, "font": "DejaVu Serif", "color": "#000"},
          "encoding": {
            "x": {"field": "v", "type": "quantitative", "scale": {"domain": [-4.5, 2.5], "nice": false, "zero": false}, "axis": {"orient": "bottom", "values": [-3.5,-2.5,-1.5,-0.5,0.5,1.5], "labels": false, "tickSize": -3, "title": null}},
            "y": {"field": "q", "type": "quantitative", "scale": {"domain": [-10, 110], "nice": false, "zero": false}, "axis": {"orient": "left", "values": [10,30,50,70,90], "labels": false, "tickSize": -3, "title": null}},
            "text": {"field": "t"}
          }
        },
        {
          "data": {"values": [{"t": "V", "v": -1.16, "q": 0}, {"t": "V", "v": 0.23, "q": 0}]},
          "mark": {"type": "text", "align": "left", "baseline": "alphabetic", "fontSize": 20, "fontStyle": "italic", "font": "DejaVu Serif", "color": "#000"},
          "encoding": {
            "x": {"field": "v", "type": "quantitative", "scale": {"domain": [-4.5, 2.5], "nice": false, "zero": false}, "axis": null},
            "y": {"field": "q", "type": "quantitative", "scale": {"domain": [-10, 110], "nice": false, "zero": false}, "axis": null},
            "text": {"field": "t"}
          }
        },
        {
          "data": {"values": [{"t": "SET", "v": -0.84, "q": -1.7}, {"t": "RESET", "v": 0.52, "q": -1.7}]},
          "mark": {"type": "text", "align": "left", "baseline": "alphabetic", "fontSize": 13, "font": "DejaVu Serif", "color": "#000"},
          "encoding": {
            "x": {"field": "v", "type": "quantitative", "scale": {"domain": [-4.5, 2.5], "nice": false, "zero": false}, "axis": null},
            "y": {"field": "q", "type": "quantitative", "scale": {"domain": [-10, 110], "nice": false, "zero": false}, "axis": null},
            "text": {"field": "t"}
          }
        }
      ],
      "resolve": {"axis": {"x": "independent", "y": "independent"}}
    }
  ]
}
